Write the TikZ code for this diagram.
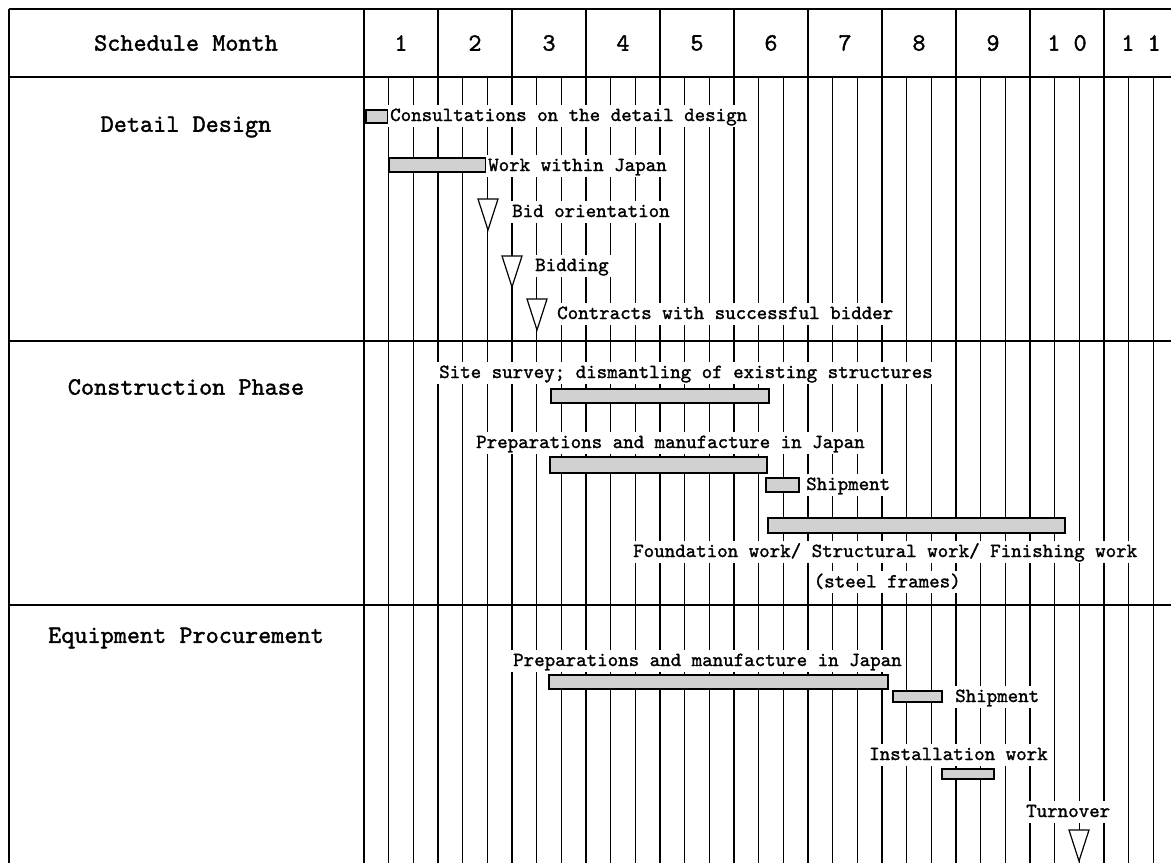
\documentclass[tikz,border=0pt]{standalone}
\usepackage{fontspec}
\newfontfamily\schedfont[FakeBold=1.4]{lmmono10-regular.otf}
\usepackage{tikz}
\usetikzlibrary{positioning, calc}

\begin{document}
\begin{tikzpicture}[x=1pt, y=-1pt,
    month/.style={line width=2pt},
    third/.style={line width=1.1pt},
    rule/.style={line width=1.8pt},
    heading/.style={font=\schedfont\fontsize{25}{28}\selectfont},
    task/.style={font=\schedfont\fontsize{20}{24}\selectfont, fill=white, inner xsep=2pt, inner ysep=0pt, text height=16pt, text depth=6pt, anchor=west},
    bar/.style={draw, line width=1.2pt, fill=black!18},
    milestone/.style={draw, line width=1.2pt, fill=white}]
  \useasboundingbox (0,0) rectangle (1171,863);
  \clip (0,0) rectangle (1171,863);

  % grid of months and ten-day periods
  \foreach \m in {0,...,11} {
    \draw[month] (364+74*\m, 9) -- (364+74*\m, 863);
    \draw[third] (364+74*\m+24.67, 77) -- (364+74*\m+24.67, 863);
    \draw[third] (364+74*\m+49.33, 77) -- (364+74*\m+49.33, 863);
  }
  \foreach \y in {9, 77, 341, 605} {
    \draw[rule] (9,\y) -- (1171,\y);
  }
  \draw[line width=2.5pt] (9,9) -- (9,863);

  % header
  \node[heading] (sched) at (186,43) {Schedule Month};
  \foreach \m/\t in {0/1, 1/2, 2/3, 3/4, 4/5, 5/6, 6/7, 7/8, 8/9, 9/{1 0}, 10/{1 1}} {
    \node[heading] (m\m) at (364+74*\m+37, 43) {\t};
  }

  \node[heading] (design) at (186,127) {Detail Design};
  \node[heading] (constr) at (186,387) {Construction Phase};
  \node[heading] (equip) at (186,638) {Equipment Procurement};

  % detail design
  \draw[bar] (366,110) rectangle (388,123);
  \draw[bar] (389,158) rectangle (486,172);
  \coordinate (bidor) at (488,230);
  \coordinate (bidding) at (512,287);
  \coordinate (contract) at (537,330);
  \foreach \c in {bidor, bidding, contract} {
    \draw[milestone] (\c) -- ++(-10,-31) -- ++(20,0) -- cycle;
  }
  \node[task] (consult) at (388,116) {Consultations on the detail design};
  \node[task] (wjp) at (486,166) {Work within Japan};
  \node[task] (bidort) at (510,212) {Bid orientation};
  \node[task] (biddingt) at (533,266) {Bidding};
  \node[task] (contractt) at (555,314) {Contracts with successful bidder};

  % construction phase
  \draw[bar] (551,389) rectangle (769,403);
  \draw[bar] (550,457) rectangle (767,473);
  \draw[bar] (766,478) rectangle (799,492);
  \draw[bar] (768,518) rectangle (1065,533);
  \node[task] (site) at (437,373) {Site survey; dismantling of existing structures};
  \node[task] (cprep) at (474,443) {Preparations and manufacture in Japan};
  \node[task] (cship) at (804,485) {Shipment};
  \node[task] (found) at (631,552) {Foundation work/ Structural work/ Finishing work};
  \node[task, anchor=center, below=8pt of found, xshift=2pt] (steel) {(steel frames)};

  % equipment procurement
  \draw[bar] (549,675) rectangle (888,689);
  \draw[bar] (893,691) rectangle (942,702);
  \draw[bar] (942,769) rectangle (994,779);
  \coordinate (turnover) at (1079,861);
  \draw[milestone] (turnover) -- ++(-10,-31) -- ++(20,0) -- cycle;
  \node[task] (eprep) at (511,661) {Preparations and manufacture in Japan};
  \node[task] (eship) at (953,697) {Shipment};
  \node[task] (install) at (867,755) {Installation work};
  \node[task] (turn) at (1024,812) {Turnover};
\end{tikzpicture}
\end{document}
